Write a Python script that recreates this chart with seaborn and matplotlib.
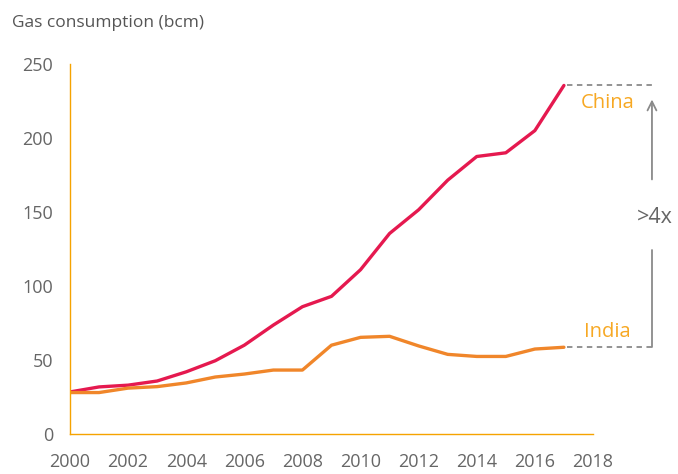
import matplotlib
matplotlib.use("Agg")
import matplotlib.pyplot as plt
import seaborn as sns
import pandas as pd

years = list(range(2000, 2018))
china = [28.4, 31.8, 33.0, 35.8, 42.0, 49.5, 60.0, 73.6, 86.0, 93.0, 111.0, 135.5, 151.5, 171.5, 187.5, 190.0, 205.0, 235.5]
india = [28.0, 28.0, 31.0, 32.0, 34.5, 38.5, 40.5, 43.2, 43.2, 60.0, 65.3, 66.0, 59.5, 53.8, 52.4, 52.4, 57.4, 58.6]
x_ticks = list(range(2000, 2019, 2))
y_ticks = [0, 50, 100, 150, 200, 250]

df = pd.DataFrame({"year": years * 2,
                   "value": china + india,
                   "country": ["China"] * len(years) + ["India"] * len(years)})

sns.set_theme(style="white")
plt.rcParams["font.family"] = ["Open Sans", "DejaVu Sans"]

fig = plt.figure(figsize=(6.78, 4.74), dpi=100)
ax = fig.add_axes([0.1032, 0.0844, 0.7714, 0.7806])

sns.lineplot(data=df, x="year", y="value", hue="country",
             palette={"China": "#E5194F", "India": "#F0862A"},
             linewidth=2.4, legend=False, ax=ax)

ax.set_xlim(2000, 2018)
ax.set_ylim(0, 250)
ax.set_xticks(x_ticks)
ax.set_yticks(y_ticks)
ax.set_xlabel("")
ax.set_ylabel("")
for side in ["top", "right"]:
    ax.spines[side].set_visible(False)
for side in ["left", "bottom"]:
    ax.spines[side].set_color("#F5A300")
    ax.spines[side].set_linewidth(1.0)
ax.tick_params(axis="both", length=0, labelsize=13, labelcolor="#666666")
ax.tick_params(axis="y", pad=12)
ax.tick_params(axis="x", pad=14)

fig.text(0.018, 0.952, "Gas consumption (bcm)", fontsize=12.5, color="#555555",
         ha="left", va="center")

# Ratio bracket between the latest values
x_end = years[-1]
x_br = 2020.03
gray = "#8a8a8a"
ax.plot([x_end + 0.1, x_br], [china[-1], china[-1]], ls=(0, (3, 2.5)), color=gray,
        lw=1.3, clip_on=False)
ax.plot([x_end + 0.1, x_br], [india[-1], india[-1]], ls=(0, (3, 2.5)), color=gray,
        lw=1.3, clip_on=False)
ax.plot([x_br, x_br], [india[-1], 124], color=gray, lw=1.3, clip_on=False)
ax.annotate("", xy=(x_br, 226), xytext=(x_br, 172),
            arrowprops=dict(arrowstyle="->", color=gray, lw=1.3,
                            mutation_scale=16, shrinkA=0, shrinkB=0),
            annotation_clip=False)
ax.text(x_br + 0.1, 146, ">4x", fontsize=15.5, color="#666666", ha="center",
        va="center", clip_on=False)
ax.text(2018.5, 223.5, "China", fontsize=14.5, color="#F7A823", ha="center",
        va="center", clip_on=False)
ax.text(2018.48, 69, "India", fontsize=14.5, color="#F7A823", ha="center",
        va="center", clip_on=False)

fig.savefig("out.png", dpi=100)
